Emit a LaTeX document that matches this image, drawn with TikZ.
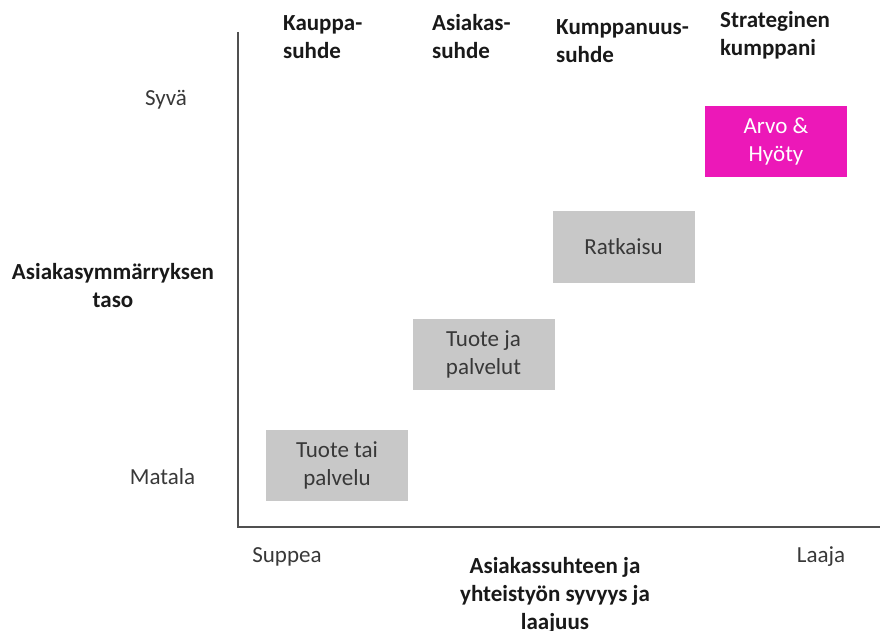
\documentclass[tikz,border=0pt]{standalone}
\usepackage{fontspec}
\setmainfont{Carlito}
\usepackage{xcolor}
\usetikzlibrary{positioning}
\definecolor{boxgray}{HTML}{C8C8C8}
\definecolor{arvopink}{HTML}{EC18B8}
\definecolor{axisgray}{HTML}{505050}
\definecolor{txtdark}{HTML}{383838}

\begin{document}
\begin{tikzpicture}[
        x=1pt, y=-1pt,
        every node/.style={font=\fontsize{23}{28}\selectfont, text=txtdark, inner sep=0pt},
        level/.style={draw=none, fill=boxgray, minimum width=142pt, minimum height=71pt, align=center},
        head/.style={font=\fontsize{23}{28}\selectfont\bfseries, text=black!90, align=left, anchor=west},
        title/.style={font=\fontsize{23}{28}\selectfont\bfseries, text=black!90, align=center},
        axis/.style={draw=axisgray, line width=1.4pt},
    ]
        \useasboundingbox (0,0) rectangle (881,631);

        % Axes
        \coordinate (top) at (238,32);
        \coordinate (origin) at (238,527);
        \coordinate (right) at (880,527);
        \draw [axis] (top) -- (origin) -- (right);

        % Column headings
        \node (kauppa) [head] at (283,37) {Kauppa-\\suhde};
        \node (asiakas) [head] at (432,37) {Asiakas-\\suhde};
        \node (kumppanuus) [head] at (556,41) {Kumppanuus-\\suhde};
        \node (strateginen) [head] at (720,35) {Strateginen\\kumppani};

        % Vertical axis labels
        \node (syva) at (166,100) {Syvä};
        \node (matala) at (162.5,477) {Matala};
        \node (ymmarrys) [title] at (113,286) {Asiakasymmärryksen\\taso};

        % Horizontal axis labels
        \node (suppea) at (287,557) {Suppea};
        \node (laaja) at (821,557) {Laaja};
        \node (syvyys) [title] at (555,595) {Asiakassuhteen ja\\yhteistyön syvyys ja\\laajuus};

        % Levels
        \node (tuote) [level] at (337,465.5) {Tuote tai\\palvelu};
        \node (palvelut) [level] at (483.5,354.5) {Tuote ja\\palvelut};
        \node (ratkaisu) [level] at (623.5,247) {Ratkaisu};
        \node (arvo) [level, fill=arvopink, text=white] at (776,141.5) {Arvo \&\\Hyöty};

    \end{tikzpicture}
\end{document}
